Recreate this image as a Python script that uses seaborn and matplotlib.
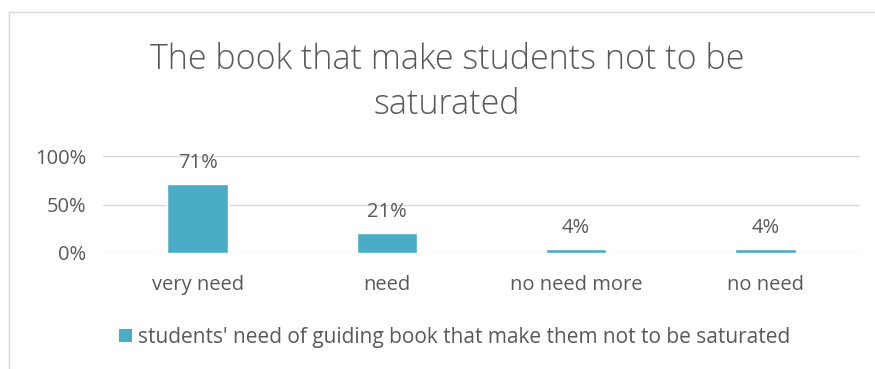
import numpy as np
import pandas as pd
import matplotlib.pyplot as plt
import seaborn as sns
from matplotlib.patches import Patch, Rectangle

sns.set_style("white")
plt.rcParams['font.family'] = ['Open Sans', 'DejaVu Sans']

# datos
categories = ['very need', 'need', 'no need more', 'no need']
values = [71, 21, 4, 4]
series_name = "students' need of guiding book that make them not to be saturated"
title = "The book that make students not to be\nsaturated"

df = pd.DataFrame({'category': categories, 'value': values})

bar_color = '#4BACC6'
text_color = '#595959'
grid_color = '#D9D9D9'

fig = plt.figure(figsize=(8.75, 3.69), dpi=100)
ax = fig.add_axes([103 / 875, 1 - 253 / 369, 757 / 875, 97 / 369])

sns.barplot(data=df, x='category', y='value', color=bar_color, width=0.32,
            saturation=1, ax=ax)

ax.set_ylim(0, 100)
ax.set_yticks([0, 50, 100])
ax.set_yticklabels(['0%', '50%', '100%'])
ax.set_xlim(-0.5, 3.5)
ax.set_xlabel('')
ax.set_ylabel('')
ax.grid(axis='y', color=grid_color, linewidth=1)
ax.set_axisbelow(True)
for s in ax.spines.values():
    s.set_visible(False)
ax.tick_params(axis='both', length=0, labelsize=14.5, colors=text_color)
ax.tick_params(axis='x', pad=16)
ax.tick_params(axis='y', pad=12)

for i, v in enumerate(values):
    ax.annotate(f'{v}%', (i, v), xytext=(0, 8), textcoords='offset points',
                ha='center', va='bottom', fontsize=14.5, color=text_color)

fig.text(447 / 875, 1 - 82 / 369, title, ha='center', va='center',
         fontsize=24.5, color=text_color, linespacing=1.4, fontweight='light')

# borde del grafico
fig.patches.append(Rectangle((9 / 875, -0.1), 1.2, 1 - 12 / 369 + 0.1,
                             transform=fig.transFigure, fill=False,
                             edgecolor=grid_color, linewidth=1))

handles = [Patch(facecolor=bar_color, edgecolor='none')]
fig.legend(handles, [series_name], loc='center', bbox_to_anchor=(455 / 875, 1 - 337 / 369),
           frameon=False, fontsize=15, labelcolor=text_color, handlelength=0.6,
           handleheight=0.6, handletextpad=0.3)

fig.savefig('out.png', dpi=100)
